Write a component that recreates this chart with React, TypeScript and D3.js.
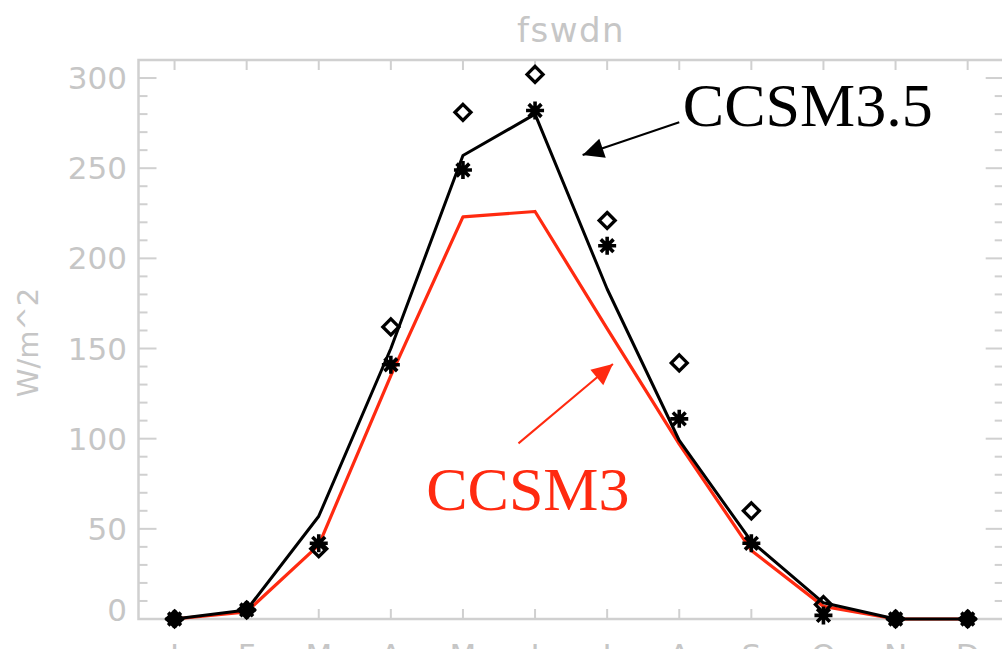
import React from "react";
import * as d3 from "d3";

// Monthly downward shortwave flux (W/m^2)
const months = ["J", "F", "M", "A", "M", "J", "J", "A", "S", "O", "N", "D"];
const ccsm35 = [0, 5, 57, 150, 257, 280, 183, 99, 43, 9, 0, 0];
const ccsm3 = [0, 4, 41, 135, 223, 226, 161, 97, 38, 7, 0, 0];
const obsStar = [0, 5, 42, 141, 249, 282, 207, 111, 42, 2, 0, 0];
const obsDiamond = [0, 5, 39, 162, 281, 302, 221, 142, 60, 8, 0, 0];
const yMajorTicks = [0, 50, 100, 150, 200, 250, 300];

const W = 1002;
const H = 649;
const axisGrey = "#d0d0d0";
const textGrey = "#c6c6c6";
const red = "#ff2a10";

const x = d3.scaleLinear().domain([-0.5, 11.5]).range([138.5, 1003.7]);
const y = d3.scaleLinear().domain([0, 310]).range([619, 60]);

const lineGen = d3
  .line<number>()
  .x((_, i) => x(i))
  .y((d) => y(d));

function arrowHead(x0: number, y0: number, x1: number, y1: number, len: number, half: number) {
  const dx = x1 - x0;
  const dy = y1 - y0;
  const l = Math.hypot(dx, dy);
  const ux = dx / l;
  const uy = dy / l;
  const bx = x1 - ux * len;
  const by = y1 - uy * len;
  const px = -uy;
  const py = ux;
  return `M${x1},${y1}L${bx + px * half},${by + py * half}L${bx - px * half},${by - py * half}Z`;
}

function starPath(cx: number, cy: number, r: number) {
  const d = r * Math.SQRT1_2;
  return (
    `M${cx - r},${cy}L${cx + r},${cy}` +
    `M${cx},${cy - r}L${cx},${cy + r}` +
    `M${cx - d},${cy - d}L${cx + d},${cy + d}` +
    `M${cx - d},${cy + d}L${cx + d},${cy - d}`
  );
}

function diamondPath(cx: number, cy: number, r: number) {
  return `M${cx},${cy - r}L${cx + r},${cy}L${cx},${cy + r}L${cx - r},${cy}Z`;
}

export default function App() {
  const [x0, x1] = x.range();
  const [yb, yt] = y.range();
  const minorTicks = d3.range(0, 311, 10).filter((v) => v % 50 !== 0);

  // annotation anchors in data space
  const a35 = { tx: 7.05, ty: 273.5, fx: 7.0, fy: 275.5, hx: 5.66, hy: 257.3 };
  const a3 = { tx: 3.49, ty: 60.4, fx: 4.77, fy: 97.4, hx: 6.08, hy: 141.4 };

  return (
    <svg
      width={W}
      height={H}
      style={{ position: "absolute", left: 0, top: 0, background: "#fff" }}
      fontFamily="DejaVu Sans, sans-serif"
    >
      <rect width={W} height={H} fill="#fff" />
      {/* title */}
      <text x={(x0 + x1) / 2} y={42} textAnchor="middle" fontSize={34} fill={textGrey} letterSpacing={1.5}>
        fswdn
      </text>

      {/* frame */}
      <rect x={x0} y={yt} width={x1 - x0} height={yb - yt} fill="none" stroke={axisGrey} strokeWidth={2.5} />

      {/* y ticks left and right */}
      {yMajorTicks.map((v) => (
        <g key={"ym" + v}>
          <line x1={x0} x2={x0 + 18} y1={y(v)} y2={y(v)} stroke={axisGrey} strokeWidth={2} />
          <line x1={x1} x2={x1 - 18} y1={y(v)} y2={y(v)} stroke={axisGrey} strokeWidth={2} />
          <text x={127} y={v === 0 ? y(v) + 2 : y(v) + 11} textAnchor="end" fontSize={31} fill={textGrey}>
            {v}
          </text>
        </g>
      ))}
      {minorTicks.map((v) => (
        <g key={"yn" + v}>
          <line x1={x0} x2={x0 + 9} y1={y(v)} y2={y(v)} stroke={axisGrey} strokeWidth={2} />
          <line x1={x1} x2={x1 - 9} y1={y(v)} y2={y(v)} stroke={axisGrey} strokeWidth={2} />
        </g>
      ))}

      {/* x ticks top and bottom */}
      {months.map((m, i) => (
        <g key={"x" + i}>
          <line x1={x(i)} x2={x(i)} y1={yb} y2={yb - 10} stroke={axisGrey} strokeWidth={2} />
          <line x1={x(i)} x2={x(i)} y1={yt} y2={yt + 10} stroke={axisGrey} strokeWidth={2} />
          <text x={x(i)} y={666} textAnchor="middle" fontSize={31} fill={textGrey}>
            {m}
          </text>
        </g>
      ))}

      {/* y axis title */}
      <text
        transform={`translate(38,${(yb + yt) / 2 + 3}) rotate(-90)`}
        textAnchor="middle"
        fontSize={29}
        fill={textGrey}
      >
        W/m^2
      </text>

      {/* model lines */}
      <path d={lineGen(ccsm3) || ""} fill="none" stroke={red} strokeWidth={3.2} strokeLinejoin="round" />
      <path d={lineGen(ccsm35) || ""} fill="none" stroke="#000" strokeWidth={3} strokeLinejoin="round" />

      {/* observation markers */}
      {obsDiamond.map((v, i) => (
        <path key={"d" + i} d={diamondPath(x(i), y(v), 8)} fill="none" stroke="#000" strokeWidth={3.3} />
      ))}
      {obsStar.map((v, i) => (
        <path key={"s" + i} d={starPath(x(i), y(v), 9)} fill="none" stroke="#000" strokeWidth={3.6} />
      ))}

      {/* CCSM3.5 annotation */}
      <line x1={x(a35.fx)} y1={y(a35.fy)} x2={x(a35.hx)} y2={y(a35.hy)} stroke="#000" strokeWidth={2} />
      <path d={arrowHead(x(a35.fx), y(a35.fy), x(a35.hx), y(a35.hy), 21, 10)} fill="#000" />
      <text x={x(a35.tx)} y={y(a35.ty)} fontFamily="Liberation Serif, Times New Roman, serif" fontSize={62} fill="#000">
        CCSM3.5
      </text>

      {/* CCSM3 annotation */}
      <line x1={x(a3.fx)} y1={y(a3.fy)} x2={x(a3.hx)} y2={y(a3.hy)} stroke={red} strokeWidth={2} />
      <path d={arrowHead(x(a3.fx), y(a3.fy), x(a3.hx), y(a3.hy), 21, 10)} fill={red} />
      <text x={x(a3.tx)} y={y(a3.ty)} fontFamily="Liberation Serif, Times New Roman, serif" fontSize={62} fill={red}>
        CCSM3
      </text>
    </svg>
  );
}
